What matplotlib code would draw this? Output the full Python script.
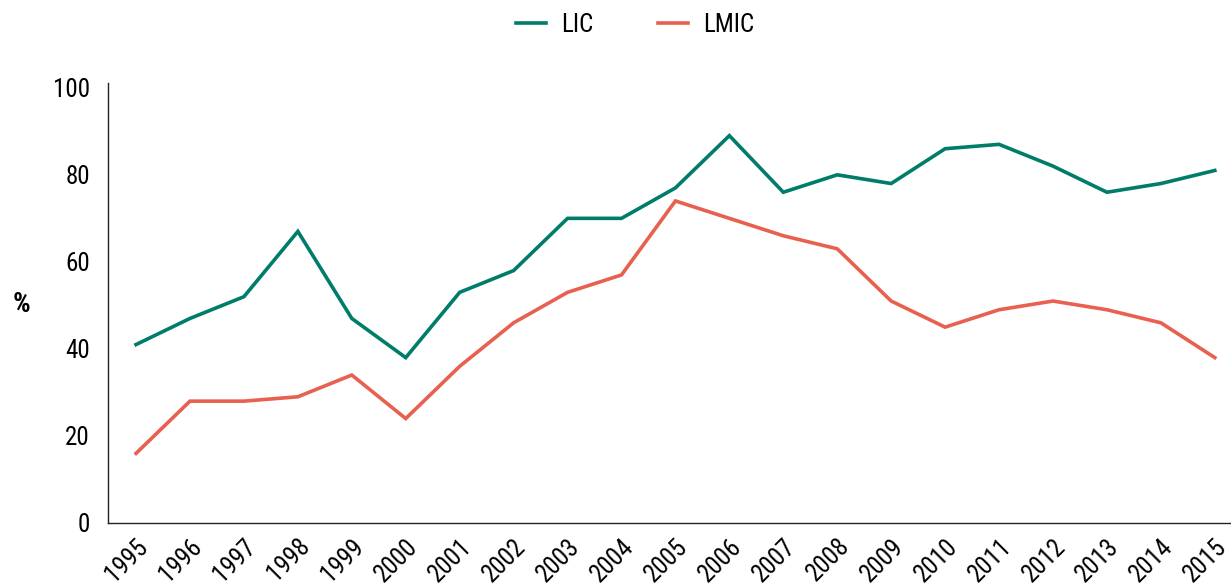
import matplotlib
matplotlib.use('Agg')
import matplotlib.pyplot as plt
from matplotlib import font_manager
import numpy as np

# use a condensed face if one is installed, otherwise an Arial lookalike
installed = {f.name for f in font_manager.fontManager.ttflist}
narrow = [n for n in ['Liberation Sans Narrow', 'Roboto Condensed', 'Open Sans Condensed',
                      'Noto Sans Condensed'] if n in installed]
plt.rcParams['font.family'] = narrow + ['Liberation Sans', 'DejaVu Sans']

years = list(range(1995, 2016))
lic = [41, 47, 52, 67, 47, 38, 53, 58, 70, 70, 77, 89, 76, 80, 78, 86, 87, 82, 76, 78, 81]
lmic = [16, 28, 28, 29, 34, 24, 36, 46, 53, 57, 74, 70, 66, 63, 51, 45, 49, 51, 49, 46, 38]

c_lic = '#007C6A'
c_lmic = '#E8604F'

fig = plt.figure(figsize=(12.31, 5.88), dpi=100)
ax = fig.add_axes([108 / 1231, 65 / 588, 1 - 108 / 1231, 440 / 588])

x = np.arange(len(years))
ax.plot(x, lic, color=c_lic, linewidth=2.6, label='LIC', solid_joinstyle='miter')
ax.plot(x, lmic, color=c_lmic, linewidth=2.6, label='LMIC', solid_joinstyle='miter')

ax.set_xlim(-0.52, 20.3)
ax.set_ylim(0, 101.1)
ax.set_yticks(range(0, 101, 20))
ax.set_xticks(x)
ax.set_xticklabels([str(y) for y in years], rotation=45, ha='right', rotation_mode='anchor')
ax.tick_params(axis='both', length=0, labelsize=18)
ax.tick_params(axis='x', pad=8)
ax.tick_params(axis='y', pad=13)
for s in ['top', 'right']:
    ax.spines[s].set_visible(False)
for s in ['left', 'bottom']:
    ax.spines[s].set_linewidth(1.0)
    ax.spines[s].set_color('#222222')

fig.text(22 / 1231, 1 - 304 / 588, '%', fontsize=20, fontweight='bold', ha='center', va='center')

fig.legend(loc='center', bbox_to_anchor=(0.516, 1 - 25 / 588), ncol=2, frameon=False,
           fontsize=18, handlelength=1.2, handletextpad=0.6, columnspacing=2.6)

plt.savefig('out.png', dpi=100, facecolor='white')
